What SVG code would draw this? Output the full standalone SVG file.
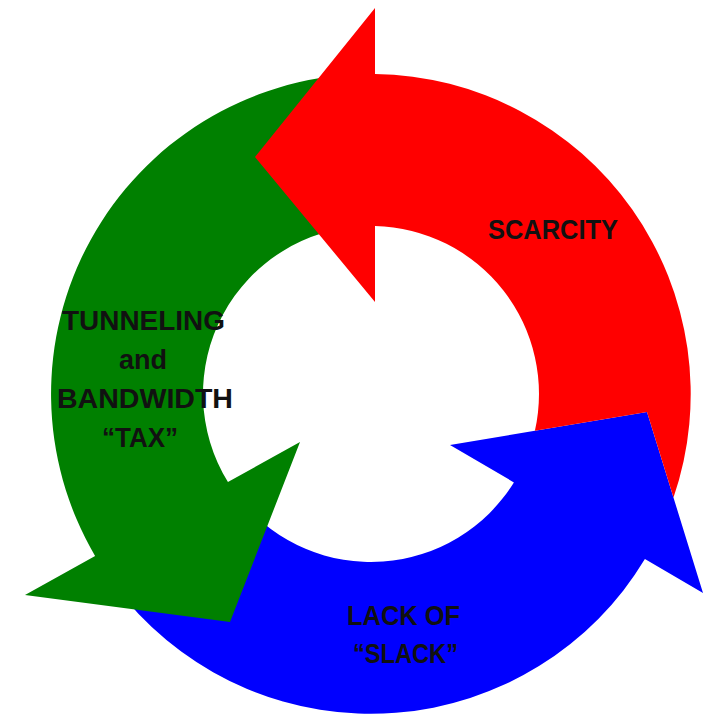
<svg xmlns="http://www.w3.org/2000/svg" width="705" height="714" viewBox="0 0 705 714">
  <style>
    .lbl { font-family: "Liberation Sans", Arial, sans-serif; font-weight: bold; font-size: 27px; fill: #111111; text-anchor: middle; }
    .red { fill: #FF0000; }
    .green { fill: #008000; }
    .blue { fill: #0000FF; }
  </style>
  <rect x="0" y="0" width="705" height="714" fill="#FFFFFF"/>
  <g id="connectors"></g>
  <g id="node-lack-of-slack">
    <path class="blue" d="M450,445 L647,412 L703,593 L644.9,559.1 A320,320 0 0 1 125.9,599.7 L242.3,502.0 A168,168 0 0 0 513.9,482.4 Z"/>
    <text class="lbl" x="403.5" y="625" textLength="113" lengthAdjust="spacingAndGlyphs">LACK OF</text>
    <text class="lbl" x="405.5" y="663" textLength="105" lengthAdjust="spacingAndGlyphs">“SLACK”</text>
  </g>
  <g id="node-tunneling">
    <path class="green" d="M300,442 L230,622 L25,595 L95.1,556.0 A320,320 0 0 1 359.8,74.2 L365.1,226.1 A168,168 0 0 0 227.95,482.1 Z"/>
    <text class="lbl" x="143.5" y="330" textLength="163" lengthAdjust="spacingAndGlyphs">TUNNELING</text>
    <text class="lbl" x="143" y="369">and</text>
    <text class="lbl" x="145" y="408" textLength="176" lengthAdjust="spacingAndGlyphs">BANDWIDTH</text>
    <text class="lbl" x="140" y="447" textLength="76" lengthAdjust="spacingAndGlyphs">“TAX”</text>
  </g>
  <g id="node-scarcity">
    <path class="red" d="M375,8 L255,157 L375,302 L375,226 A168,168 0 0 1 534.9,430.8 L647,412 L673.5,497.5 A320,320 0 0 0 375,74 Z"/>
    <text class="lbl" x="553" y="239" textLength="130" lengthAdjust="spacingAndGlyphs">SCARCITY</text>
  </g>
</svg>
